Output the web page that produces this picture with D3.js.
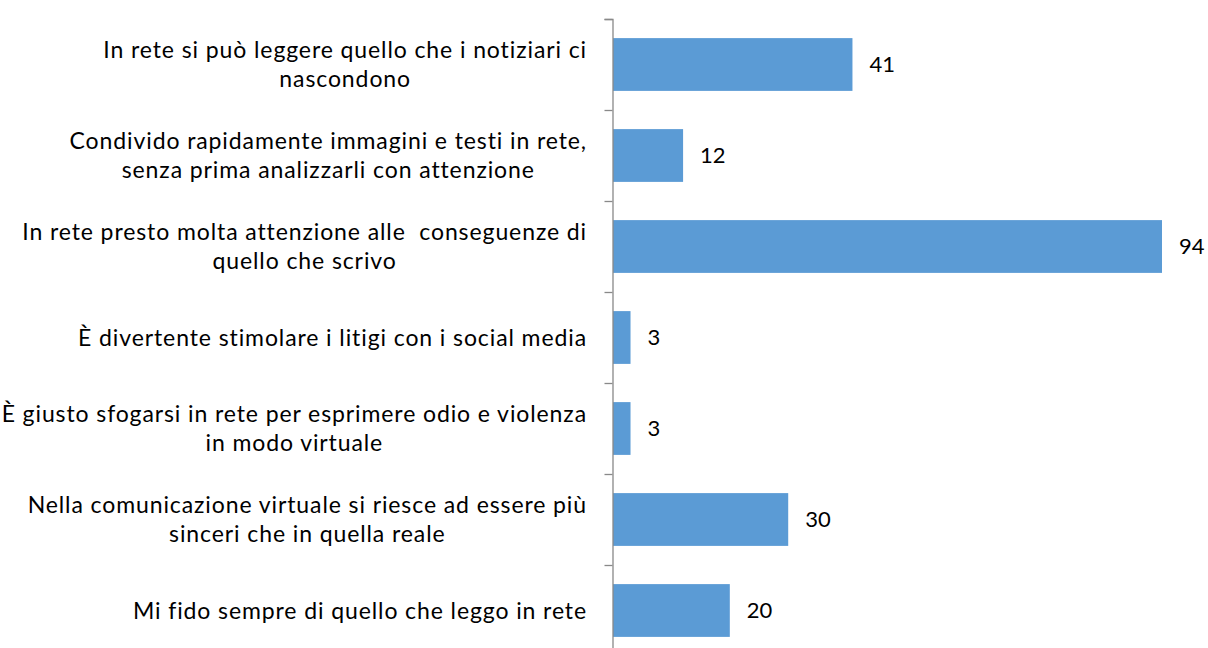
<!DOCTYPE html>
<html>
<head>
<meta charset="utf-8">
<script src="https://cdn.jsdelivr.net/npm/d3@7"></script>
<style>
  body { margin: 0; background: #fff; }
  svg text { font-family: Lato, "Open Sans", sans-serif; fill: #000; white-space: pre; }
</style>
</head>
<body>
<svg id="chart"></svg>
<script>
// category labels, each split into the lines shown
const categories = [
  ["In rete si può leggere quello che i notiziari ci", "nascondono"],
  ["Condivido rapidamente immagini e testi in rete,", "senza prima analizzarli con attenzione"],
  ["In rete presto molta attenzione alle  conseguenze di", "quello che scrivo"],
  ["È divertente stimolare i litigi con i social media"],
  ["È giusto sfogarsi in rete per esprimere odio e violenza", "in modo virtuale"],
  ["Nella comunicazione virtuale si riesce ad essere più", "sinceri che in quella reale"],
  ["Mi fido sempre di quello che leggo in rete"]
];
const values = [41, 12, 94, 3, 3, 30, 20];

const width = 1208;
const height = 648;
const axisX = 612;
const plotTop = 19;
const band = 91;
const labelRight = 587;

const svg = d3.select("#chart")
    .attr("width", width)
    .attr("height", height);

const y = d3.scaleBand()
    .domain(d3.range(values.length))
    .range([plotTop, plotTop + band * values.length])
    .paddingInner(0.42)
    .paddingOuter(0.21);

const x = d3.scaleLinear()
    .domain([0, 94])
    .range([axisX + 1, 1162]);

svg.selectAll(".bar")
    .data(values)
    .enter()
    .append("rect")
    .attr("class", "bar")
    .attr("x", x(0))
    .attr("y", (d, i) => y(i))
    .attr("width", d => x(d) - x(0))
    .attr("height", y.bandwidth())
    .attr("fill", "#5b9bd5");

// axis line and tick marks between categories
const yAxis = d3.axisLeft(d3.scaleLinear().domain([0, values.length]).range([plotTop, plotTop + band * values.length]))
    .ticks(values.length)
    .tickSize(8)
    .tickSizeOuter(8)
    .tickFormat("");

const g = svg.append("g")
    .attr("transform", `translate(${axisX + 0.5},0)`)
    .call(yAxis);
g.selectAll("path, line").attr("stroke", "#898989").attr("stroke-width", 1.3);

// value labels
svg.selectAll(".val")
    .data(values)
    .enter()
    .append("text")
    .attr("class", "val")
    .attr("x", d => x(d) + 17)
    .attr("y", (d, i) => y(i) + y.bandwidth() / 2)
    .attr("dy", "0.35em")
    .style("font-size", "22px")
    .text(d => d);

// category labels: lines centred on each other, block right edge at labelRight
const lineH = 29;
svg.selectAll(".cat")
    .data(categories)
    .enter()
    .append("text")
    .attr("class", "cat")
    .attr("text-anchor", "middle")
    .style("font-size", "23px")
    .style("letter-spacing", "0.9px")
    .each(function(lines, i) {
        const t = d3.select(this);
        const cy = y(i) + y.bandwidth() / 2;
        const start = cy - (lines.length - 1) * lineH / 2;
        const spans = t.selectAll("tspan")
            .data(lines)
            .enter()
            .append("tspan")
            .attr("y", (l, j) => start + j * lineH)
            .attr("dy", "0.35em")
            .text(l => l);
        const w = d3.max(spans.nodes(), n => n.getComputedTextLength());
        spans.attr("x", labelRight - w / 2);
    });
</script>
</body>
</html>
